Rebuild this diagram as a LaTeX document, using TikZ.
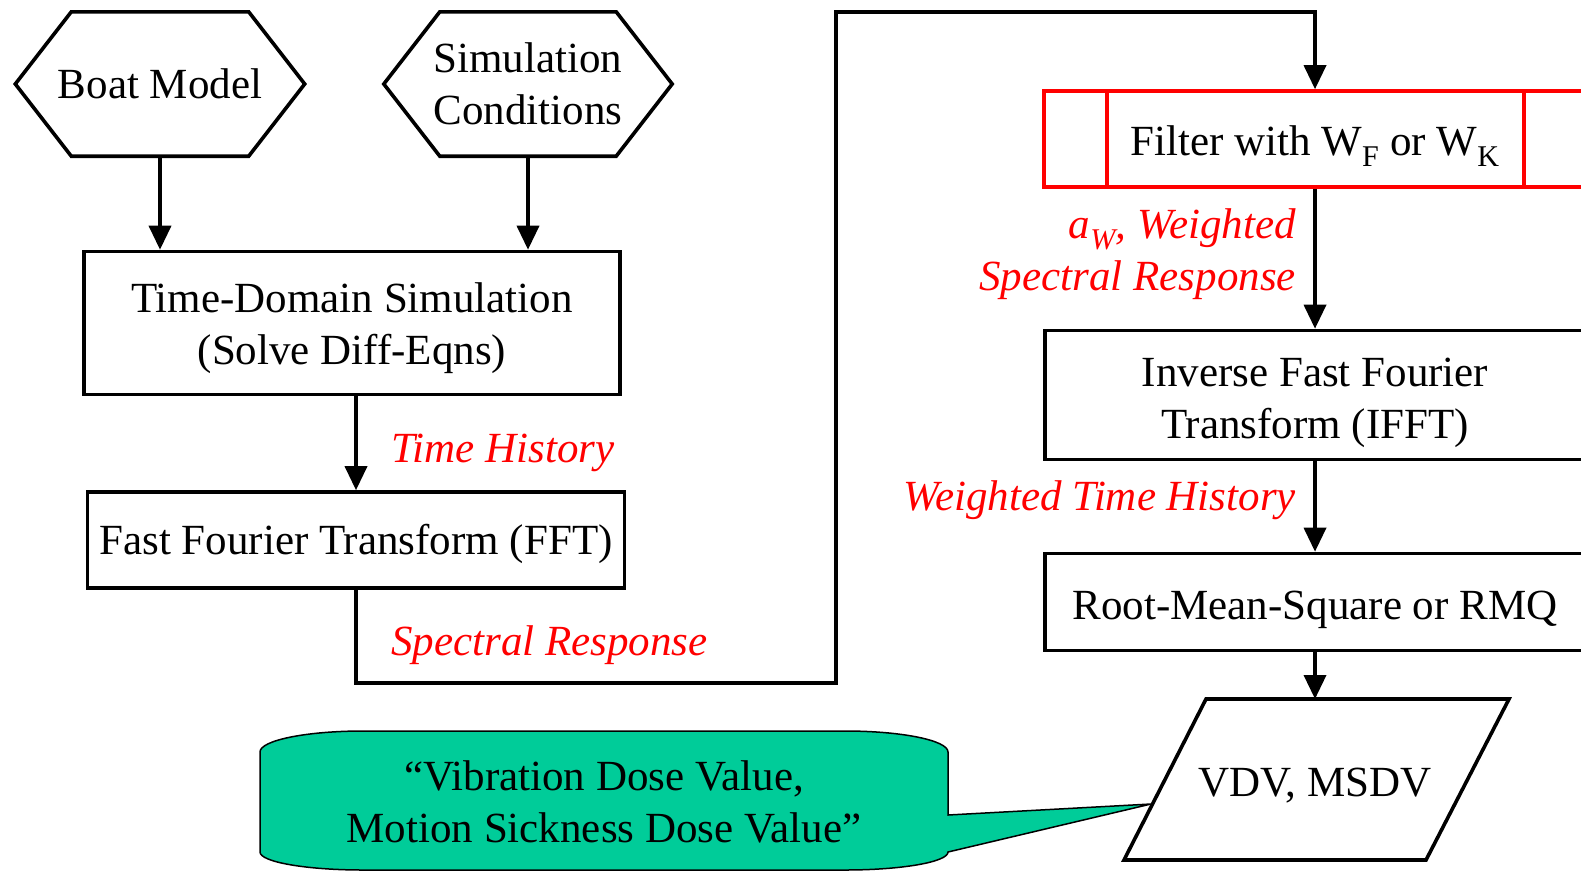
\documentclass[tikz,border=0pt]{standalone}
\usepackage{fontspec}
\setmainfont{Liberation Serif}
\usepackage{tikz}
\usetikzlibrary{calc,positioning}
\usetikzlibrary{arrows.meta}
\definecolor{red}{RGB}{255,0,0}
\definecolor{notegreen}{RGB}{0,204,153}
\tikzset{
    flowarrow/.style={
        line width=3.6pt,
        black,
        -{Triangle[length=24pt, width=22pt]}
    },
    % boxes of the chain
    flowbox/.style={
        draw,
        line width=3.6pt,
        inner sep=0pt,
        align=center
    },
    hexline/.style={
        line width=3.6pt,
        line join=miter
    },
    flowlabel/.style={
        red,
        font=\fontsize{43}{52}\selectfont\itshape,
        inner sep=0pt
    }
}

\begin{document}
\begin{tikzpicture}[x=1pt, y=-1pt, font=\fontsize{43}{52}\selectfont]
    \useasboundingbox (0,0) rectangle (1581,871);

    % inputs
    \node (boat) [minimum width=289, minimum height=144, inner sep=0pt] at (160,84) {Boat Model};
    \node (simcond) [minimum width=288, minimum height=144, inner sep=0pt, align=center] at (528,84) {Simulation\\Conditions};
    \foreach \n in {boat,simcond}
        \draw[hexline] (\n.west) -- ($(\n.north west)+(56,0)$) -- ($(\n.north east)+(-56,0)$)
            -- (\n.east) -- ($(\n.south east)+(-56,0)$) -- ($(\n.south west)+(56,0)$) -- cycle;

    % left column
    \node (tds) [flowbox, minimum width=536, minimum height=143, text height=92pt] at (352,323) {Time-Domain Simulation\\(Solve Diff-Eqns)};
    \node (fft) [flowbox, minimum width=537, minimum height=96, text height=37.5pt] at (356,540) {Fast Fourier Transform (FFT)};

    % right column
    \node (filt) [flowbox, red, minimum width=542, minimum height=96, text height=43.5pt] at (1315,139) {\color{black}Filter with W\textsubscript{F} or W\textsubscript{K}};
    \draw[red, line width=3.6pt] ([xshift=65]filt.north west) -- ([xshift=65]filt.south west);
    \draw[red, line width=3.6pt] ([xshift=-64]filt.north east) -- ([xshift=-64]filt.south east);
    \node (ifft) [flowbox, minimum width=540, minimum height=129, text height=96pt] at (1315,395) {Inverse Fast Fourier\\Transform (IFFT)};
    \node (rmq) [flowbox, minimum width=540, minimum height=97, text height=43.5pt] at (1315,602) {Root-Mean-Square or RMQ};

    % output
    \node (vdv) [inner sep=0pt, text height=39.5pt] at (1315,780) {VDV, MSDV};
    \draw[hexline] ($(vdv)+(-109,-81)$) -- ($(vdv)+(194,-81)$) -- ($(vdv)+(111,80)$) -- ($(vdv)+(-191,80)$) -- cycle;
    \coordinate (vdvtop) at ($(vdv)+(0,-81)$);

    %arrows
    \draw[flowarrow] (boat.south) -- (boat.south |- tds.north);
    \draw[flowarrow] (simcond.south) -- (simcond.south |- tds.north);
    \draw[flowarrow] (fft.north |- tds.south) -- (fft.north);
    \coordinate (turn) at (836,683);
    \coordinate (over) at (1315,12);
    \draw[flowarrow] (fft.south) |- (turn) |- (over) -- (filt.north);
    \draw[flowarrow] (filt.south) -- (ifft.north);
    \draw[flowarrow] (ifft.south) -- (rmq.north);
    \draw[flowarrow] (rmq.south) -- (vdvtop);

    %label
    \node (lbltime) [flowlabel, anchor=west] at (391,453) {Time History};
    \node (lblspec) [flowlabel, anchor=west] at (391,645) {Spectral Response};
    \node (lblweight) [flowlabel, anchor=east, align=right] at (1296,254) {a\textsubscript{W}, Weighted\\Spectral Response};
    \node (lblwth) [flowlabel, anchor=east] at (1296,500) {Weighted Time History};

    % callout
    \coordinate (tip) at ($(vdv)+(-164,24)$);
    \draw[line width=1.5pt, fill=notegreen] (260,752)
        arc[start angle=180, end angle=270, x radius=103, y radius=21] -- (845,731)
        arc[start angle=270, end angle=360, x radius=103, y radius=21] -- (948,815)
        -- (tip) -- (948,852)
        arc[start angle=0, end angle=90, x radius=103, y radius=18] -- (363,870)
        arc[start angle=90, end angle=180, x radius=103, y radius=18] -- cycle;
    \node (note) [align=center, inner sep=0pt] at (604,802) {``Vibration Dose Value,\\Motion Sickness Dose Value''};
\end{tikzpicture}
\end{document}
